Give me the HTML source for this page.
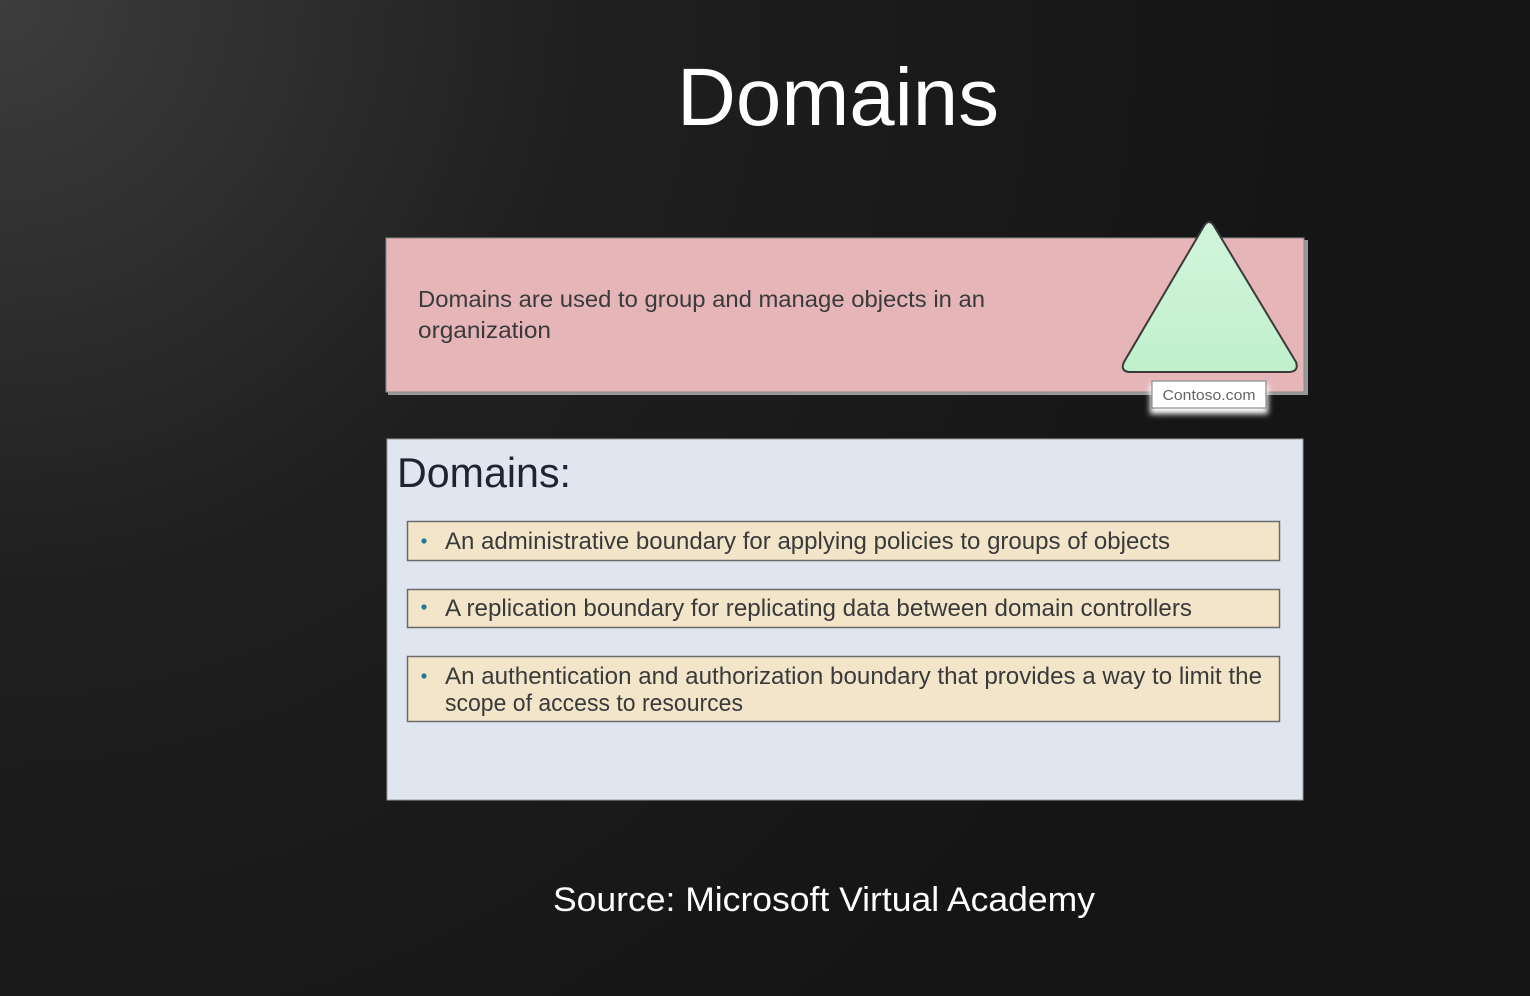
<!DOCTYPE html>
<html><head><meta charset="utf-8"><style>
html,body{margin:0;padding:0;width:1530px;height:996px;overflow:hidden;background:#141414}
svg{display:block}
text{font-family:"Liberation Sans",sans-serif}
</style></head><body>
<svg width="1530" height="996" viewBox="0 0 1530 996" xmlns="http://www.w3.org/2000/svg">
<defs>
<radialGradient id="bg" cx="0" cy="0" r="1300" gradientUnits="userSpaceOnUse">
<stop offset="0" stop-color="#3d3d3d"/><stop offset="0.45" stop-color="#1f1f1f"/><stop offset="1" stop-color="#151515"/>
</radialGradient>
<linearGradient id="tri" x1="0" y1="0" x2="0" y2="1">
<stop offset="0" stop-color="#d2f5dc"/><stop offset="1" stop-color="#c0f0cc"/>
</linearGradient>
<filter id="glow" x="-30%" y="-50%" width="160%" height="200%"><feGaussianBlur stdDeviation="3"/></filter>
</defs>
<rect width="1530" height="996" fill="url(#bg)"/>
<text x="838" y="125" font-size="82" fill="#fff" text-anchor="middle" textLength="322" lengthAdjust="spacingAndGlyphs">Domains</text>

<!-- pink box -->
<rect x="388" y="240" width="920" height="155" fill="#9a9a9a"/>
<rect x="386" y="238" width="918" height="154" fill="#e5b5b8" stroke="#8a8a8a" stroke-width="1"/>
<text x="418" y="307" font-size="23" fill="#3a3a3a" textLength="567" lengthAdjust="spacingAndGlyphs">Domains are used to group and manage objects in an</text>
<text x="418" y="338" font-size="23" fill="#3a3a3a" textLength="133" lengthAdjust="spacingAndGlyphs">organization</text>

<!-- triangle -->
<path d="M1204 226 Q1209 218 1214 226 L1296 362 Q1299 371 1290 372 L1129 372 Q1120 371 1124 362 Z" fill="url(#tri)" stroke="#3a3a3a" stroke-width="2"/>
<rect x="1150" y="384" width="118" height="30" fill="#fff" filter="url(#glow)"/>
<rect x="1152" y="381" width="114" height="27" fill="#fff" stroke="#777" stroke-width="1"/>
<text x="1209" y="400" font-size="15" fill="#666" text-anchor="middle" textLength="93" lengthAdjust="spacingAndGlyphs">Contoso.com</text>

<!-- blue box -->
<rect x="387" y="439" width="916" height="361" fill="#dfe6f0" stroke="#999" stroke-width="1"/>
<text x="397" y="487" font-size="42" fill="#1e2530" textLength="174" lengthAdjust="spacingAndGlyphs">Domains:</text>

<rect x="407.5" y="521.5" width="872" height="39" fill="#f3e5ca" stroke="#6a6a6a" stroke-width="1.5"/>
<circle cx="424" cy="541" r="2.6" fill="#1f7a9a"/>
<text x="445" y="549" font-size="24" fill="#3a3a3a" textLength="725" lengthAdjust="spacingAndGlyphs">An administrative boundary for applying policies to groups of objects</text>

<rect x="407.5" y="589.5" width="872" height="38" fill="#f3e5ca" stroke="#6a6a6a" stroke-width="1.5"/>
<circle cx="424" cy="607" r="2.6" fill="#1f7a9a"/>
<text x="445" y="616" font-size="24" fill="#3a3a3a" textLength="747" lengthAdjust="spacingAndGlyphs">A replication boundary for replicating data between domain controllers</text>

<rect x="407.5" y="656.5" width="872" height="65" fill="#f3e5ca" stroke="#6a6a6a" stroke-width="1.5"/>
<circle cx="424" cy="676" r="2.6" fill="#1f7a9a"/>
<text x="445" y="684" font-size="24" fill="#3a3a3a" textLength="817" lengthAdjust="spacingAndGlyphs">An authentication and authorization boundary that provides a way to limit the</text>
<text x="445" y="711" font-size="24" fill="#3a3a3a" textLength="298" lengthAdjust="spacingAndGlyphs">scope of access to resources</text>

<text x="824" y="911" font-size="34" fill="#fff" text-anchor="middle" textLength="542" lengthAdjust="spacingAndGlyphs">Source: Microsoft Virtual Academy</text>
</svg>
</body></html>
